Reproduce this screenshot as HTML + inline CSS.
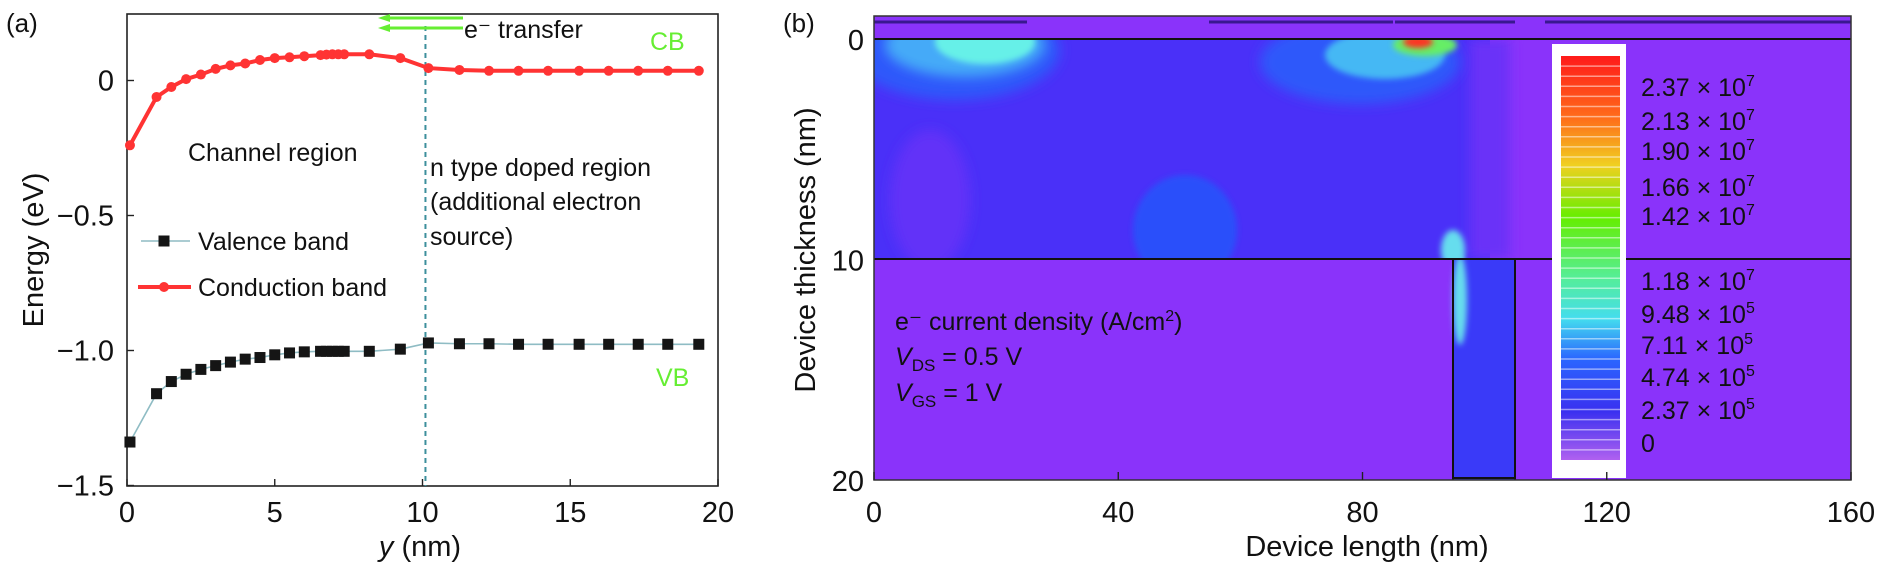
<!DOCTYPE html>
<html><head><meta charset="utf-8">
<style>
body{margin:0;background:#fff;width:1890px;height:569px;overflow:hidden}
svg{display:block}
text{font-family:"Liberation Sans",sans-serif;fill:#111}
</style></head>
<body>
<svg id="chart" width="1890" height="569" viewBox="0 0 1890 569" xmlns="http://www.w3.org/2000/svg">
<defs>
<filter id="blur6" x="-50%" y="-50%" width="200%" height="200%"><feGaussianBlur stdDeviation="6"/></filter>
<filter id="blur3" x="-50%" y="-50%" width="200%" height="200%"><feGaussianBlur stdDeviation="3"/></filter>
<clipPath id="chanClip"><rect x="874" y="39" width="977" height="220"/></clipPath>
<linearGradient id="cbar" x1="0" y1="0" x2="0" y2="1">
<stop offset="0" stop-color="#ff1a1a"/><stop offset="0.15" stop-color="#ff6a1a"/>
<stop offset="0.27" stop-color="#f0d020"/><stop offset="0.4" stop-color="#66ee00"/>
<stop offset="0.55" stop-color="#55ee99"/><stop offset="0.65" stop-color="#44ddee"/>
<stop offset="0.75" stop-color="#2a66ff"/><stop offset="0.88" stop-color="#3a30f0"/>
<stop offset="1" stop-color="#b060f0"/></linearGradient>
</defs>
<g id="panelA"></g>
<g id="panelB"></g>
</svg>
<script>
// ---- Panel (a) data ----
const cbX = [0.1,1.0,1.5,2.0,2.5,3.0,3.5,4.0,4.5,5.0,5.5,6.0,6.55,6.75,6.95,7.15,7.35,8.2,9.25,10.2,11.25,12.25,13.25,14.25,15.3,16.3,17.3,18.3,19.35];
const cbE = [-0.24,-0.061,-0.024,0.005,0.022,0.043,0.056,0.063,0.076,0.083,0.086,0.09,0.094,0.096,0.097,0.097,0.097,0.097,0.083,0.046,0.039,0.036,0.036,0.036,0.036,0.036,0.036,0.036,0.036];
const vbX = cbX;
const vbE = [-1.339,-1.16,-1.115,-1.088,-1.07,-1.056,-1.043,-1.032,-1.026,-1.016,-1.009,-1.005,-1.003,-1.003,-1.003,-1.003,-1.003,-1.003,-0.995,-0.972,-0.975,-0.975,-0.977,-0.977,-0.977,-0.977,-0.977,-0.977,-0.977];
const xTicksA = [0,5,10,15,20];
const yTicksA = [0,-0.5,-1.0,-1.5];
const yTickLabelsA = ["0","\u22120.5","\u22121.0","\u22121.5"];
// ---- Panel (b) data ----
const xTicksB = [0,40,80,120,160];
const yTicksB = [0,10,20];
const cbarLabels = ["2.37","2.13","1.90","1.66","1.42","1.18","9.48","7.11","4.74","2.37","0"];
const cbarExps = ["7","7","7","7","7","7","5","5","5","5",""];
const cbarLabelY = [87,121,151,187,216,281,314,345,377,410,443];

const NS="http://www.w3.org/2000/svg";
function mk(tag,attrs,parent,txt){const e=document.createElementNS(NS,tag);for(const k in attrs)e.setAttribute(k,attrs[k]);if(txt!==undefined)e.textContent=txt;parent.appendChild(e);return e;}

// ===== Panel A =====
const A=document.getElementById('panelA');
const ax={x0:127,x1:718,y0:14,y1:486};
const sx=v=>ax.x0+(v-0)/(20-0)*(ax.x1-ax.x0);
const sy=v=>80.5+(0-v)*270;
let e;
e=mk('text',{x:6,y:32,'font-size':26},A,'(a)');


e=mk('rect',{x:ax.x0,y:ax.y0,width:ax.x1-ax.x0,height:ax.y1-ax.y0,fill:'none',stroke:'#222','stroke-width':1.6},A);


xTicksA.forEach(t=>{
  const x=sx(t);
  e=mk('line',{x1:x,y1:ax.y1,x2:x,y2:ax.y1-7,stroke:'#222','stroke-width':1.4},A);
  
  
  e=mk('text',{x:x,y:522,'font-size':29,'text-anchor':'middle'},A,String(t));
  
  
});
yTicksA.forEach((t,i)=>{
  const y=sy(t);
  e=mk('line',{x1:ax.x0,y1:y,x2:ax.x0+7,y2:y,stroke:'#222','stroke-width':1.4},A);
  
  
  e=mk('text',{x:114,y:y+10,'font-size':29,'text-anchor':'end'},A,yTickLabelsA[i]);
  
  
});
e=mk('text',{x:0,y:0,'font-size':29,'text-anchor':'middle',transform:'translate(43,250) rotate(-90)'},A,'Energy (eV)');


e=mk('text',{x:420,y:556,'font-size':29,'text-anchor':'middle'},A);


mk('tspan',{'font-style':'italic'},e,'y');mk('tspan',{},e,' (nm)');
e=mk('line',{x1:sx(10.1),y1:ax.y0+12,x2:sx(10.1),y2:ax.y1,stroke:'#3d8f9c','stroke-width':2,'stroke-dasharray':'5,4'},A);


[18,28].forEach(y=>{
  e=mk('line',{x1:386,y1:y,x2:463,y2:y,stroke:'#66ee33','stroke-width':3},A);
  
  
  mk('polygon',{points:`378,${y} 390,${y-4} 390,${y+4}`,fill:'#66ee33'},A);
});
e=mk('text',{x:464,y:38,'font-size':25},A,'e\u207B transfer');


e=mk('text',{x:650,y:50,'font-size':25,style:'fill:#66ee33'},A,'CB');


e=mk('text',{x:656,y:386,'font-size':25,style:'fill:#66ee33'},A,'VB');


e=mk('text',{x:188,y:161,'font-size':25},A,'Channel region');


[['n type doped region',176],['(additional electron',210],['source)',245]].forEach(([t,y])=>{
  e=mk('text',{x:430,y:y,'font-size':25},A,t);
  
  
});
const vbPts=vbX.map((x,i)=>sx(x)+','+sy(vbE[i])).join(' ');
e=mk('polyline',{points:vbPts,fill:'none',stroke:'#8fbcc4','stroke-width':1.6},A);


vbX.forEach((x,i)=>{
  e=mk('rect',{x:sx(x)-5.5,y:sy(vbE[i])-5.5,width:11,height:11,fill:'#151515'},A);
  
  
});
const cbPts=cbX.map((x,i)=>sx(x)+','+sy(cbE[i])).join(' ');
e=mk('polyline',{points:cbPts,fill:'none',stroke:'#ff3333','stroke-width':4},A);


cbX.forEach((x,i)=>{
  e=mk('circle',{cx:sx(x),cy:sy(cbE[i]),r:5,fill:'#ff3333'},A);
  
  
});
e=mk('g',{},A);


mk('line',{x1:141,y1:241,x2:190,y2:241,stroke:'#8fbcc4','stroke-width':1.6},e);
mk('rect',{x:158.5,y:235.5,width:11,height:11,fill:'#151515'},e);
mk('text',{x:198,y:250,'font-size':25},e,'Valence band');
e=mk('g',{},A);


mk('line',{x1:138,y1:287,x2:191,y2:287,stroke:'#ff3333','stroke-width':4},e);
mk('circle',{cx:164,cy:287,r:5,fill:'#ff3333'},e);
mk('text',{x:198,y:296,'font-size':25},e,'Conduction band');

// ===== Panel B =====
const B=document.getElementById('panelB');
const bx={x0:874,x1:1851,top:16,y0:39,y1:480};
const bsx=v=>bx.x0+v/160*(bx.x1-bx.x0);
const bsy=v=>bx.y0+v/20*(bx.y1-bx.y0);
e=mk('text',{x:783,y:32,'font-size':26},B,'(b)');


e=mk('rect',{x:bx.x0,y:bx.top,width:bx.x1-bx.x0,height:bx.y1-bx.top,fill:'#8a33fa'},B);


[[874,1027],[1209,1393],[1395,1515],[1545,1851]].forEach(([a,b])=>{
  e=mk('line',{x1:a,y1:22,x2:b,y2:22,stroke:'#3a1890','stroke-width':3},B);
  
  
});
const H=mk('g',{'clip-path':'url(#chanClip)'},B);


mk('rect',{x:874,y:39,width:616,height:220,fill:'#4a30f8'},H);
mk('rect',{x:1470,y:39,width:40,height:220,fill:'#6a30f8',filter:'url(#blur6)'},H);
mk('ellipse',{cx:930,cy:200,rx:40,ry:70,fill:'#6232f8',filter:'url(#blur6)'},H);
mk('ellipse',{cx:1185,cy:230,rx:52,ry:55,fill:'#2a50fa',filter:'url(#blur3)'},H);
mk('ellipse',{cx:955,cy:50,rx:105,ry:50,fill:'#2e58fa',filter:'url(#blur6)'},H);
mk('ellipse',{cx:965,cy:45,rx:80,ry:32,fill:'#44aaf8',filter:'url(#blur6)'},H);
mk('ellipse',{cx:985,cy:42,rx:50,ry:22,fill:'#66f0e8',filter:'url(#blur3)'},H);
mk('ellipse',{cx:1360,cy:62,rx:100,ry:42,fill:'#2e58fa',filter:'url(#blur6)'},H);
mk('ellipse',{cx:1385,cy:55,rx:60,ry:24,fill:'#44b8f4',filter:'url(#blur3)'},H);
mk('ellipse',{cx:1425,cy:45,rx:32,ry:11,fill:'#66ee66',filter:'url(#blur3)'},H);
mk('ellipse',{cx:1418,cy:42,rx:15,ry:6,fill:'#ff3322',filter:'url(#blur3)'},H);
mk('ellipse',{cx:1453,cy:250,rx:12,ry:20,fill:'#66ddee',filter:'url(#blur3)'},H);
e=mk('rect',{x:1453,y:259,width:62,height:221,fill:'#3a3af8'},B);


mk('ellipse',{cx:1460,cy:300,rx:7,ry:45,fill:'#66ddee',filter:'url(#blur3)'},B);
[[874,39,1851,39],[874,259,1851,259],[1453,259,1453,480],[1515,259,1515,480],[1453,478,1515,478]].forEach(p=>{
  e=mk('line',{x1:p[0],y1:p[1],x2:p[2],y2:p[3],stroke:'#111','stroke-width':2},B);
  
  
});
e=mk('rect',{x:bx.x0,y:bx.top,width:bx.x1-bx.x0,height:bx.y1-bx.top,fill:'none',stroke:'#333','stroke-width':1.5},B);


e=mk('rect',{x:1552,y:44,width:74,height:434,fill:'#fff'},B);


e=mk('rect',{x:1561,y:56,width:59,height:404,fill:'url(#cbar)'},B);


for(let i=1;i<40;i++){mk('line',{x1:1561,y1:56+i*10.1,x2:1620,y2:56+i*10.1,stroke:'#fff','stroke-opacity':0.5,'stroke-width':1.5},B);}
cbarLabels.forEach((l,i)=>{
  e=mk('text',{x:1641,y:cbarLabelY[i]+9,'font-size':25},B);
  
  
  if(cbarExps[i]){mk('tspan',{},e,l+' \u00D7 10');mk('tspan',{dy:-10,'font-size':16},e,cbarExps[i]);}
  else e.textContent=l;
});
xTicksB.forEach(t=>{
  const x=bsx(t);
  e=mk('line',{x1:x,y1:bx.y1,x2:x,y2:bx.y1-8,stroke:'#222','stroke-width':1.4},B);
  
  
  e=mk('text',{x:x,y:522,'font-size':29,'text-anchor':'middle'},B,String(t));
  
  
});
yTicksB.forEach(t=>{
  const y=bsy(t);
  e=mk('text',{x:864,y:y+11,'font-size':29,'text-anchor':'end'},B,String(t));
  
  
});
e=mk('text',{x:0,y:0,'font-size':29,'text-anchor':'middle',transform:'translate(815,250) rotate(-90)'},B,'Device thickness (nm)');


e=mk('text',{x:1367,y:556,'font-size':29,'text-anchor':'middle'},B,'Device length (nm)');


e=mk('text',{x:895,y:330,'font-size':25},B);


mk('tspan',{},e,'e\u207B current density (A/cm');mk('tspan',{dy:-9,'font-size':16},e,'2');mk('tspan',{dy:9},e,')');
e=mk('text',{x:895,y:365,'font-size':25},B);


mk('tspan',{'font-style':'italic'},e,'V');mk('tspan',{dy:6,'font-size':17},e,'DS');mk('tspan',{dy:-6},e,' = 0.5 V');
e=mk('text',{x:895,y:401,'font-size':25},B);


mk('tspan',{'font-style':'italic'},e,'V');mk('tspan',{dy:6,'font-size':17},e,'GS');mk('tspan',{dy:-6},e,' = 1 V');
</script>
</body></html>
